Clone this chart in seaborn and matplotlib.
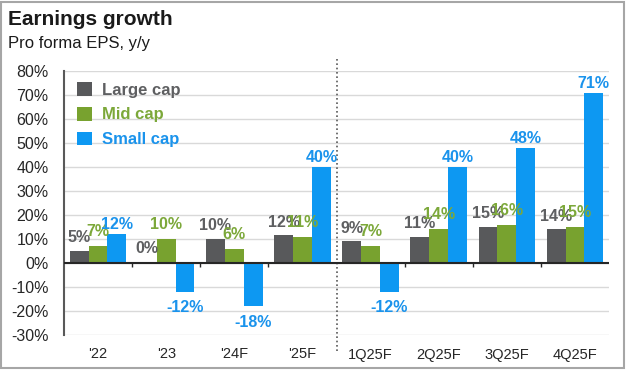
import pandas as pd
import numpy as np
import matplotlib.pyplot as plt
import seaborn as sns
from matplotlib.patches import Patch, Rectangle

# Dados (crescimento de EPS, % a/a)
periods = ["'22", "'23", "'24F", "'25F", "1Q25F", "2Q25F", "3Q25F", "4Q25F"]
series = ["Large cap", "Mid cap", "Small cap"]
large_cap = [5, 0.4, 10, 11.6, 9, 11, 15, 14]
mid_cap = [7, 10, 6, 11, 7, 14, 16, 15]
small_cap = [12, -12, -18, 40, -12, 40, 48, 71]
y_ticks = [-30, -20, -10, 0, 10, 20, 30, 40, 50, 60, 70, 80]

bar_colors = ["#58595B", "#78A22F", "#0D98F2"]
text_colors = ["#5E5F61", "#7CA83A", "#1A93EC"]

df = pd.DataFrame({"Periodo": periods, "Large cap": large_cap,
                   "Mid cap": mid_cap, "Small cap": small_cap})
df_long = pd.melt(df, id_vars=["Periodo"], var_name="Serie", value_name="EPS")

sns.set_style("white")
plt.rcParams['font.family'] = ['Liberation Sans', 'DejaVu Sans']

fig = plt.figure(figsize=(6.28, 3.70), dpi=100)
W, H = 628, 370
ax = fig.add_axes([64 / W, 1 - 335 / H, (609 - 64) / W, (335 - 71) / H])

sns.barplot(data=df_long, x="Periodo", y="EPS", hue="Serie", order=periods,
            hue_order=series, palette=bar_colors, saturation=1, width=0.83,
            linewidth=0, legend=False, ax=ax)

# rótulos de valor (positivos acima, negativos abaixo)
vals = [large_cap, mid_cap, small_cap]
pads = [4, 5, 1.5]
for cont, v, c, p in zip(ax.containers, vals, text_colors, pads):
    pos = [f"{round(x)}%" if x >= 0 else "" for x in v]
    neg = [f"{round(x)}%" if x < 0 else "" for x in v]
    ax.bar_label(cont, labels=pos, padding=p, color=c, fontsize=11.5,
                 fontweight="bold")
    if any(neg):
        ax.bar_label(cont, labels=neg, padding=6, color=c, fontsize=11.5,
                     fontweight="bold")

ax.set_ylim(-30, 80)
ax.set_xlim(-0.5, len(periods) - 0.5)
ax.set_yticks(y_ticks)
ax.set_yticklabels([f"{t}%" for t in y_ticks])
ax.set_xlabel("")
ax.set_ylabel("")
ax.grid(axis="y", color="#D9D9D9", linewidth=1)
ax.set_axisbelow(True)
ax.tick_params(axis="y", length=0, pad=11, labelsize=11.5, labelcolor="#262626")
ax.tick_params(axis="x", length=0, pad=9, labelsize=10.5, labelcolor="#262626")

for s in ["top", "right", "bottom"]:
    ax.spines[s].set_visible(False)
ax.spines["left"].set_color("#595959")
ax.spines["left"].set_linewidth(1.5)

# linha do zero e marcas entre categorias
ax.axhline(0, color="#262626", linewidth=1.5, zorder=3)
bounds = np.arange(0.5, len(periods) - 0.5)
ax.vlines([b for b in bounds if b != 3.5], -1.6, 0, color="#262626",
          linewidth=1, zorder=3)

# separador anual / trimestral
ax.plot([3.5, 3.5], [-0.06, 1.045], transform=ax.get_xaxis_transform(),
        color="#595959", linestyle=(0, (1, 1.6)), linewidth=1.2, clip_on=False)

# legenda
handles = [Patch(facecolor=c, edgecolor="none") for c in bar_colors]
leg = ax.legend(handles, series, loc="upper left",
                bbox_to_anchor=(13 / 545, 1 - 11 / 264), frameon=False,
                borderpad=0, borderaxespad=0, handlelength=0.9,
                handleheight=0.9, handletextpad=0.6, labelspacing=0.55,
                prop={"size": 12, "weight": "bold"})
for t, c in zip(leg.get_texts(), text_colors):
    t.set_color(c)

# títulos
fig.text(8 / W, 1 - 25 / H, "Earnings growth", fontsize=15, fontweight="bold",
         color="#1A1A1A", va="baseline")
fig.text(8 / W, 1 - 48 / H, "Pro forma EPS, y/y", fontsize=12,
         color="#1A1A1A", va="baseline")

# moldura
fig.add_artist(Rectangle((1 / W, 2 / H), 623 / W, 366 / H,
                         transform=fig.transFigure, fill=False,
                         edgecolor="#A6A6A6", linewidth=1.5))

plt.savefig("out.png", dpi=100)
